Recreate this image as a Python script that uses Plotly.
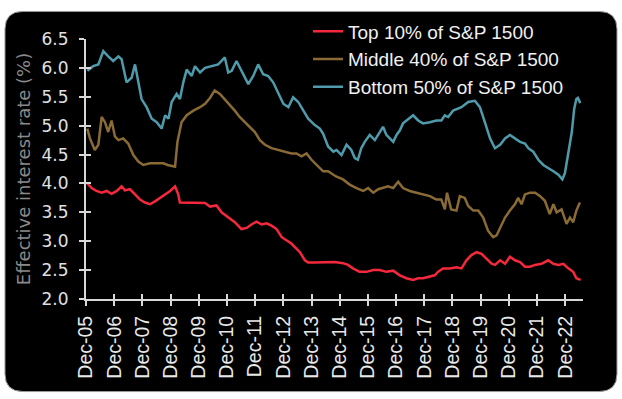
import plotly.graph_objects as go

# ---------------- data ----------------
top_dates = ["2005-12-18","2006-02-13","2006-04-15","2006-06-22","2006-08-25","2006-10-28","2007-01-04","2007-03-07","2007-04-19","2007-06-22","2007-08-28","2007-11-01","2008-01-04","2008-03-10","2008-05-13","2008-07-15","2008-09-21","2008-11-25","2009-01-28","2009-03-10","2009-04-01","2009-06-28","2009-09-22","2009-12-18","2010-02-21","2010-04-25","2010-07-19","2010-09-22","2010-12-18","2011-03-13","2011-06-07","2011-08-13","2011-10-15","2011-12-19","2012-02-25","2012-04-28","2012-07-01","2012-09-04","2012-11-10","2013-01-13","2013-03-15","2013-05-19","2013-07-04","2013-09-07","2013-10-19","2014-01-13","2014-05-22","2014-09-28","2015-01-13","2015-03-19","2015-05-22","2015-08-16","2015-11-13","2016-02-10","2016-05-04","2016-07-28","2016-10-25","2017-01-19","2017-04-13","2017-07-10","2017-09-13","2017-11-15","2018-02-12","2018-04-15","2018-05-28","2018-08-01","2018-10-28","2019-01-22","2019-03-28","2019-06-01","2019-08-04","2019-10-10","2019-12-13","2020-02-16","2020-04-22","2020-06-04","2020-08-10","2020-10-13","2020-12-15","2021-02-18","2021-04-25","2021-06-28","2021-09-01","2021-11-07","2022-01-28","2022-04-25","2022-07-01","2022-09-04","2022-11-07","2023-01-10","2023-03-15","2023-04-25","2023-06-19"]
top_vals = [4.00,3.92,3.87,3.84,3.87,3.82,3.87,3.95,3.88,3.90,3.81,3.72,3.67,3.64,3.69,3.75,3.82,3.87,3.95,3.81,3.67,3.67,3.67,3.67,3.66,3.60,3.62,3.50,3.41,3.33,3.21,3.23,3.29,3.34,3.29,3.31,3.27,3.21,3.07,3.01,2.96,2.87,2.81,2.67,2.63,2.63,2.63,2.64,2.62,2.59,2.53,2.47,2.47,2.50,2.50,2.47,2.49,2.41,2.36,2.33,2.36,2.36,2.39,2.41,2.47,2.53,2.53,2.55,2.53,2.67,2.76,2.81,2.78,2.70,2.61,2.59,2.67,2.61,2.73,2.67,2.64,2.56,2.56,2.59,2.61,2.67,2.61,2.59,2.61,2.53,2.47,2.36,2.33]

mid_dates = ["2005-12-18","2006-01-21","2006-03-25","2006-05-10","2006-06-22","2006-08-04","2006-09-15","2006-10-28","2006-12-12","2007-01-25","2007-03-28","2007-06-01","2007-08-07","2007-10-10","2007-12-13","2008-03-10","2008-06-04","2008-08-28","2008-10-25","2009-01-28","2009-02-28","2009-04-22","2009-06-28","2009-09-22","2009-12-18","2010-02-21","2010-04-25","2010-06-25","2010-09-01","2010-11-04","2011-01-10","2011-03-13","2011-05-15","2011-07-22","2011-09-25","2011-11-28","2012-02-01","2012-04-07","2012-07-01","2012-09-25","2012-12-22","2013-03-15","2013-05-19","2013-07-25","2013-09-28","2013-12-01","2014-02-28","2014-05-01","2014-07-04","2014-10-15","2015-01-13","2015-04-10","2015-07-07","2015-10-01","2015-12-04","2016-02-10","2016-04-13","2016-06-15","2016-08-19","2016-10-25","2016-12-28","2017-03-01","2017-05-28","2017-08-22","2017-11-15","2018-02-12","2018-05-07","2018-07-10","2018-08-25","2018-09-22","2018-11-15","2019-01-22","2019-03-07","2019-05-10","2019-06-24","2019-08-28","2019-11-01","2020-01-04","2020-03-07","2020-05-13","2020-06-25","2020-08-10","2020-10-13","2020-12-15","2021-02-18","2021-04-01","2021-05-15","2021-06-28","2021-09-01","2021-11-07","2022-01-10","2022-03-13","2022-05-15","2022-07-01","2022-08-13","2022-10-15","2022-12-19","2023-02-01","2023-03-15","2023-04-25","2023-06-10"]
mid_vals = [4.95,4.78,4.58,4.67,5.15,5.06,4.89,5.09,4.81,4.75,4.78,4.69,4.49,4.38,4.32,4.35,4.35,4.35,4.32,4.29,4.72,5.06,5.18,5.26,5.32,5.38,5.48,5.61,5.55,5.46,5.35,5.26,5.15,5.06,4.98,4.89,4.75,4.67,4.61,4.58,4.55,4.52,4.52,4.47,4.52,4.41,4.29,4.21,4.21,4.12,4.07,3.98,3.92,3.87,3.92,3.84,3.90,3.92,3.95,3.92,4.03,3.92,3.87,3.84,3.81,3.78,3.72,3.72,3.55,3.84,3.55,3.53,3.78,3.75,3.61,3.53,3.53,3.41,3.18,3.07,3.10,3.24,3.41,3.53,3.64,3.75,3.64,3.81,3.84,3.84,3.78,3.70,3.47,3.64,3.50,3.55,3.30,3.41,3.33,3.53,3.67]

bot_dates = ["2005-12-18","2006-03-04","2006-05-10","2006-07-13","2006-09-15","2006-11-19","2007-01-25","2007-03-07","2007-05-10","2007-07-15","2007-08-28","2007-10-10","2007-11-21","2008-01-25","2008-04-01","2008-06-04","2008-08-07","2008-09-21","2008-11-04","2008-12-15","2009-02-18","2009-04-01","2009-05-15","2009-06-28","2009-09-01","2009-10-13","2009-12-18","2010-02-21","2010-05-15","2010-08-10","2010-10-13","2010-11-04","2010-12-18","2011-02-01","2011-04-04","2011-06-07","2011-09-04","2011-11-07","2012-01-10","2012-03-15","2012-05-19","2012-07-22","2012-09-25","2012-12-01","2013-02-04","2013-04-07","2013-06-12","2013-08-15","2013-10-19","2014-01-13","2014-03-19","2014-05-01","2014-07-04","2014-09-10","2014-10-22","2014-12-25","2015-02-28","2015-05-01","2015-06-15","2015-07-25","2015-09-07","2015-10-22","2015-12-25","2016-03-01","2016-05-04","2016-06-15","2016-07-28","2016-09-10","2016-10-25","2016-12-07","2017-01-19","2017-03-01","2017-05-07","2017-07-10","2017-09-13","2017-11-15","2018-02-12","2018-05-07","2018-07-10","2018-08-25","2018-10-07","2018-12-10","2019-03-28","2019-06-24","2019-09-18","2019-11-22","2020-01-25","2020-04-01","2020-06-04","2020-08-10","2020-10-13","2020-12-15","2021-02-18","2021-04-25","2021-06-28","2021-08-10","2021-10-13","2021-12-18","2022-02-21","2022-04-25","2022-07-01","2022-09-04","2022-10-25","2022-11-28","2023-01-10","2023-02-25","2023-03-28","2023-04-25","2023-05-15","2023-06-15"]
bot_vals = [5.95,6.03,6.06,6.29,6.20,6.12,6.20,6.15,5.75,5.83,6.06,5.72,5.46,5.32,5.12,5.06,4.95,5.18,5.12,5.41,5.55,5.46,5.75,5.97,5.86,6.03,5.92,6.00,6.03,6.06,6.15,6.18,5.92,5.95,6.12,5.95,5.72,5.86,6.06,5.89,5.86,5.75,5.58,5.38,5.32,5.49,5.41,5.26,5.12,5.01,4.95,4.86,4.64,4.55,4.58,4.49,4.67,4.58,4.44,4.41,4.61,4.72,4.84,4.75,4.89,4.98,4.84,4.78,4.72,4.84,4.92,5.04,5.12,5.18,5.09,5.04,5.06,5.09,5.09,5.18,5.15,5.26,5.32,5.41,5.43,5.32,5.06,4.78,4.61,4.67,4.78,4.84,4.78,4.72,4.69,4.61,4.55,4.41,4.32,4.27,4.21,4.15,4.07,4.18,4.49,4.89,5.29,5.46,5.48,5.39]

series_names = ["Top 10% of S&P 1500", "Middle 40% of S&P 1500", "Bottom 50% of S&P 1500"]
series_colors = ["#f5283c", "#8a6a35", "#4f9aab"]
y_ticks = [2.0, 2.5, 3.0, 3.5, 4.0, 4.5, 5.0, 5.5, 6.0, 6.5]
y_title = "Effective interest rate (%)"

# ---------------- figure ----------------
W, H = 622, 399
ML, MR, MT, MB = 86, 39, 35, 100
PW, PH = W - ML - MR, H - MT - MB

def px2paper(x, y):
    return (x - ML) / PW, (H - MB - y) / PH

fig = go.Figure()
for d, v, n, c in zip([top_dates, mid_dates, bot_dates], [top_vals, mid_vals, bot_vals],
                      series_names, series_colors):
    fig.add_trace(go.Scatter(x=d, y=v, name=n, mode="lines",
                             line=dict(color=c, width=2.5)))

# invisible trace for the overlay axes (inner half of cross ticks)
fig.add_trace(go.Scatter(x=[None], y=[None], xaxis="x2", yaxis="y2",
                         showlegend=False, hoverinfo="skip"))

# rounded black background panel
x0, y0, x1, y1, r = 5, 7, 617, 393, 18
def P(x, y):
    a, b = px2paper(x, y)
    return f"{a:.5f},{b:.5f}"
path = (f"M{P(x0 + r, y0)} L{P(x1 - r, y0)} Q{P(x1, y0)} {P(x1, y0 + r)} "
        f"L{P(x1, y1 - r)} Q{P(x1, y1)} {P(x1 - r, y1)} "
        f"L{P(x0 + r, y1)} Q{P(x0, y1)} {P(x0, y1 - r)} "
        f"L{P(x0, y0 + r)} Q{P(x0, y0)} {P(x0 + r, y0)} Z")
fig.add_shape(type="path", path=path, xref="paper", yref="paper",
              fillcolor="black", line=dict(color="#9a9a9a", width=1), layer="below")

axis_col = "#d8d8d8"
xrange_ = ["2005-12-01", "2023-07-20"]
fig.update_layout(
    width=W, height=H,
    margin=dict(l=ML, r=MR, t=MT, b=MB, pad=0),
    paper_bgcolor="white", plot_bgcolor="rgba(0,0,0,0)",
    font=dict(family="Liberation Sans, Arial, sans-serif", color="#e8e8e8"),
    showlegend=True,
    legend=dict(x=px2paper(308, 0)[0], y=px2paper(0, 8)[1], xanchor="left", yanchor="top",
                bgcolor="rgba(0,0,0,0)", font=dict(size=19, color="#f0f0f0"),
                itemwidth=30, tracegroupgap=0),
    xaxis=dict(type="date", range=xrange_, tick0="2005-12-01", dtick="M12",
               tickformat="%b-%y", tickangle=-90, showgrid=False, zeroline=False,
               showline=True, linecolor=axis_col, linewidth=2,
               ticks="outside", ticklen=5, tickwidth=2, tickcolor=axis_col,
               tickfont=dict(size=19.5, color="#e8e8e8"), ticklabelstandoff=2),
    yaxis=dict(range=[2.0, 6.5], tickvals=y_ticks, tickformat=".1f",
               showgrid=False, zeroline=False,
               showline=True, linecolor=axis_col, linewidth=2,
               ticks="outside", ticklen=5, tickwidth=2, tickcolor=axis_col,
               tickfont=dict(size=17, family="DejaVu Sans, sans-serif", color="#e0e0e0"),
               ticklabelstandoff=7,
               title=dict(text=y_title, font=dict(size=18, family="DejaVu Sans, sans-serif",
                                                  color="#8a8a8a"), standoff=6)),
    xaxis2=dict(type="date", overlaying="x", matches="x", showticklabels=False,
                tick0="2005-12-01", dtick="M12", ticks="inside", ticklen=5, tickwidth=2,
                tickcolor=axis_col, showgrid=False, zeroline=False, showline=False),
    yaxis2=dict(overlaying="y", matches="y", showticklabels=False, tickvals=y_ticks,
                ticks="inside", ticklen=5, tickwidth=2, tickcolor=axis_col,
                showgrid=False, zeroline=False, showline=False),
)

fig.write_html("out.html", config={"displayModeBar": False},
               post_script="document.body.style.margin='0';")
